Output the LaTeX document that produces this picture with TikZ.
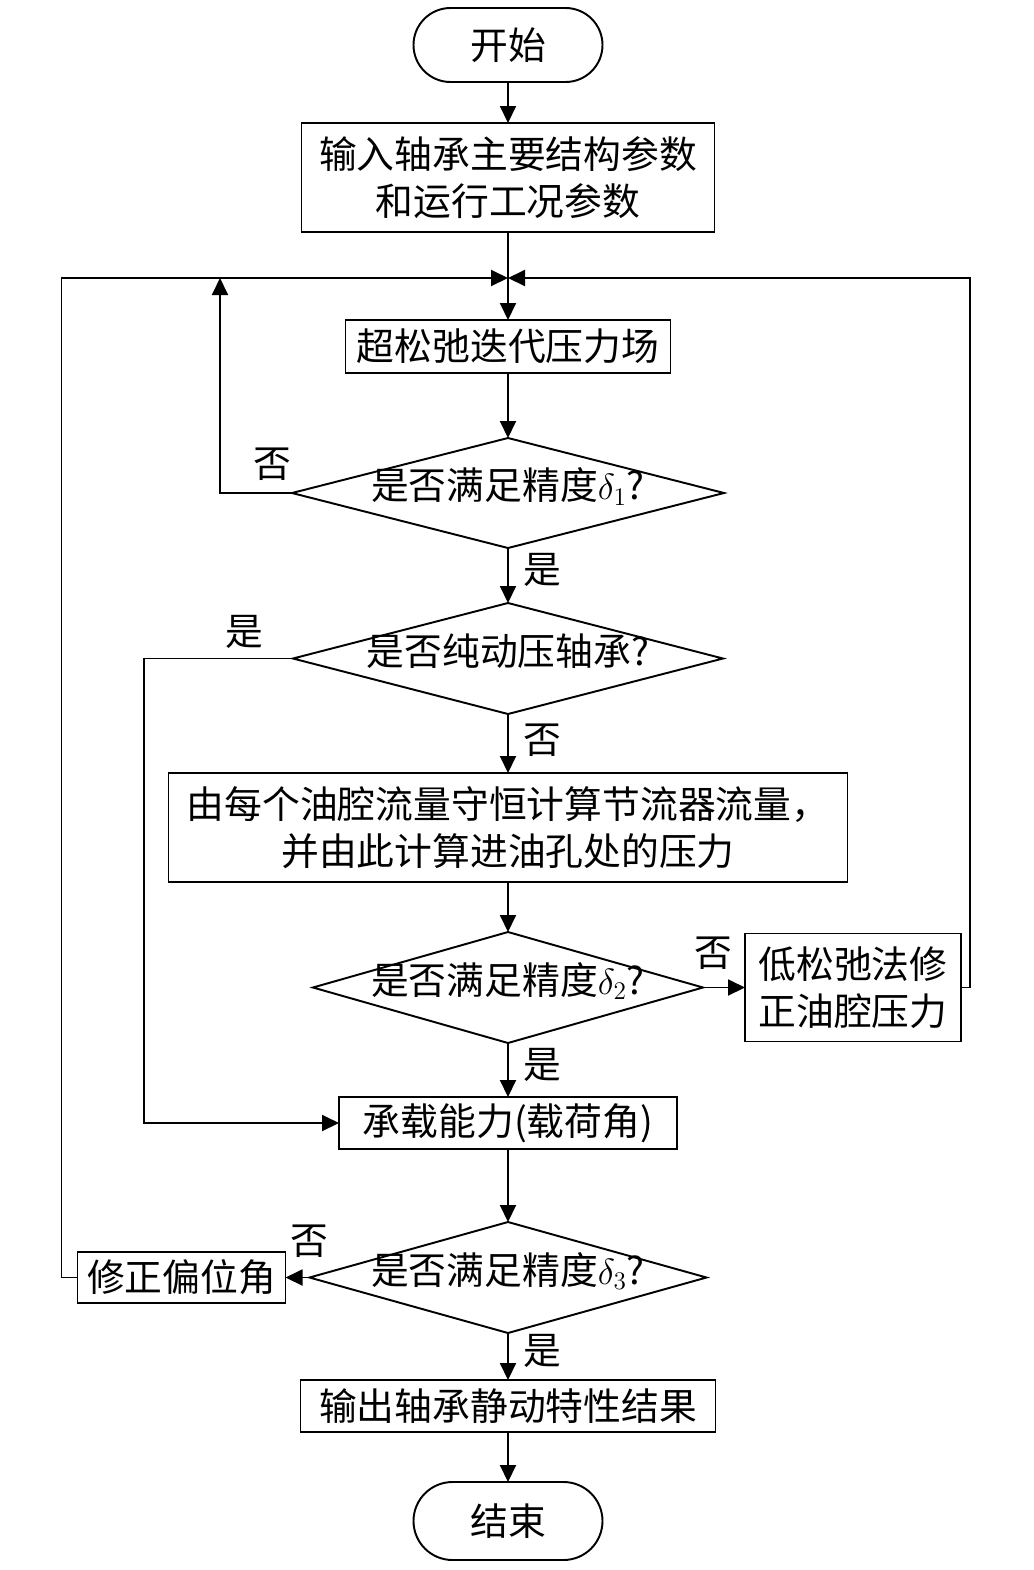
\documentclass[tikz,border=0pt]{standalone}
\usepackage{fontspec}
\setmainfont{Noto Sans CJK SC}
\usepackage{tikz}
\usetikzlibrary{shapes.geometric, arrows.meta, positioning, calc}

\begin{document}
\begin{tikzpicture}[
  node distance=1cm,
  every node/.style={font=\fontsize{21.5}{26.5}\selectfont},
  terminal/.style={rectangle, rounded corners=0.74cm, draw, line width=1.1pt, outer sep=0pt, minimum width=3.78cm, minimum height=1.48cm},
  process/.style={rectangle, draw, line width=1.1pt, outer sep=0pt, align=center, inner sep=2pt},
  decision/.style={diamond, draw, line width=1.1pt, outer sep=0pt, aspect=3.5, inner sep=0pt, text height=0.76em, text depth=0pt},
  tag/.style={inner sep=0pt},
  arrow/.style={-{Triangle[length=0.34cm, width=0.32cm]}, line width=1.1pt}
]
  \useasboundingbox (0,0) rectangle (20.66,-31.4);

  % Main column
  \node[terminal] (start) at (10.16,-0.9) {开始};
  \node[process, minimum width=8.26cm, minimum height=2.18cm, below=0.82cm of start] (input) {输入轴承主要结构参数\\和运行工况参数};
  \node[process, minimum width=6.5cm, minimum height=1.06cm, below=1.76cm of input] (sor) {超松弛迭代压力场};
  \node[decision, minimum width=8.64cm, minimum height=2.2cm, below=1.3cm of sor] (acc1) {是否满足精度$\delta_1$?};
  \node[decision, minimum width=8.6cm, minimum height=2.22cm, below=1.1cm of acc1] (pure) {是否纯动压轴承?};
  \node[process, minimum width=13.58cm, minimum height=2.18cm, below=1.18cm of pure] (flow) {由每个油腔流量守恒计算节流器流量，\\并由此计算进油孔处的压力};
  \node[decision, minimum width=7.8cm, minimum height=2.22cm, below=1.0cm of flow] (acc2) {是否满足精度$\delta_2$?};
  \node[process, minimum width=6.76cm, minimum height=1.04cm, below=1.08cm of acc2] (load) {承载能力(载荷角)};
  \node[decision, minimum width=7.94cm, minimum height=2.22cm, below=1.46cm of load] (acc3) {是否满足精度$\delta_3$?};
  \node[process, minimum width=8.3cm, minimum height=1.04cm, below=0.94cm of acc3] (output) {输出轴承静动特性结果};
  \node[terminal, minimum height=1.56cm, rounded corners=0.78cm, below=1.0cm of output] (end) {结束};

  % Side boxes
  \node[process, minimum width=4.32cm, minimum height=2.16cm, right=0.84cm of acc2] (lowsor) {低松弛法修\\正油腔压力};
  \node[process, minimum width=4.16cm, minimum height=1.02cm, left=0.48cm of acc3] (angle) {修正偏位角};

  % Merge points
  \coordinate (merge) at (10.16,-5.56);
  \coordinate (loop1) at (4.4,-5.56);

  % Labels
  \node[tag, above left=0.24cm and 0cm of acc1.west] (no1) {否};
  \node[tag, below right=0.1cm and 0.3cm of acc1.south] (yes1) {是};
  \node[tag, above left=0.2cm and 0.58cm of pure.west] (yes2) {是};
  \node[tag, below right=0.2cm and 0.3cm of pure.south] (no2) {否};
  \node[tag, above=0.36cm of acc2.east, xshift=0.2cm] (no3) {否};
  \node[tag, below right=0.1cm and 0.3cm of acc2.south] (yes3) {是};
  \node[tag, above=0.4cm of acc3.west] (no4) {否};
  \node[tag, below right=0.02cm and 0.3cm of acc3.south] (yes4) {是};

  % Arrows
  \draw[arrow] (start) -- (input);
  \draw[arrow] (input) -- (sor);
  \draw[arrow] (sor) -- (acc1);
  \draw[arrow] (acc1) -- (pure);
  \draw[arrow] (acc1.west) -| (loop1);
  \draw[arrow] (pure) -- (flow);
  \draw[arrow] (pure.west) -- ++(-2.98,0) |- (load.west);
  \draw[arrow] (flow) -- (acc2);
  \draw[arrow] (acc2) -- (lowsor);
  \draw[arrow] (lowsor.east) -- ++(0.18,0) |- (merge);
  \draw[arrow] (acc2) -- (load);
  \draw[arrow] (load) -- (acc3);
  \draw[arrow] (acc3) -- (angle);
  \draw[arrow] (angle.west) -- ++(-0.32,0) |- (merge);
  \draw[arrow] (acc3) -- (output);
  \draw[arrow] (output) -- (end);
\end{tikzpicture}
\end{document}
